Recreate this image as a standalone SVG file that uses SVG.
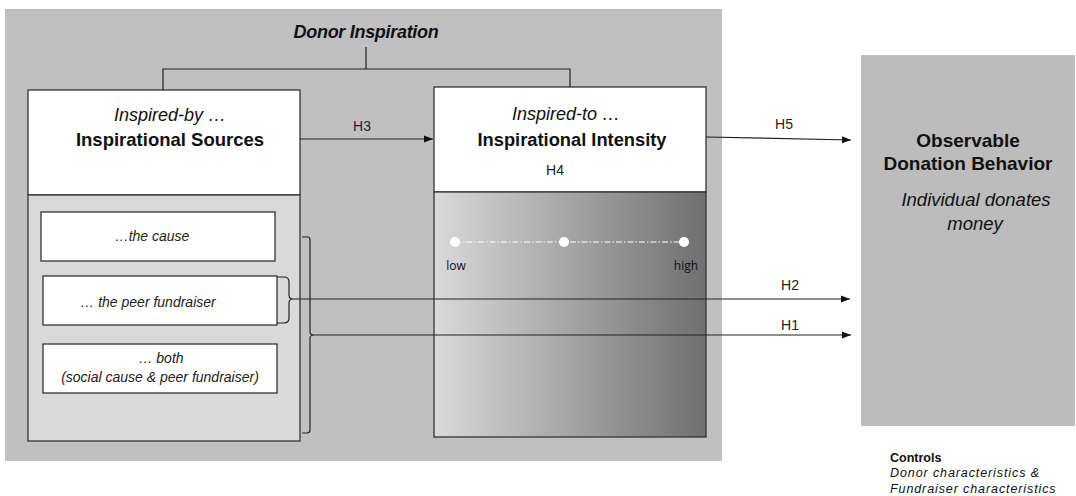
<svg xmlns="http://www.w3.org/2000/svg" width="1076" height="496" viewBox="0 0 1076 496">
<defs>
<linearGradient id="grad" x1="0" y1="0" x2="1" y2="0">
<stop offset="0" stop-color="#dadada"/>
<stop offset="1" stop-color="#6f6f6f"/>
</linearGradient>
<marker id="arr" markerWidth="10" markerHeight="8" refX="9" refY="4" orient="auto" markerUnits="userSpaceOnUse">
<path d="M0,0.5 L9,4 L0,7.5 Z" fill="#111"/>
</marker>
</defs>
<style>
text{font-family:"Liberation Sans",Arial,sans-serif;fill:#111}
.box{stroke:#333;stroke-width:1.3}
.ln{fill:none;stroke:#222;stroke-width:1.2}
.lbl{font-size:14px;text-anchor:middle;fill:#222}
.ital{font-style:italic}
.bold{font-weight:bold}
.mid{text-anchor:middle}
.sm{font-size:14px;font-style:italic;text-anchor:middle;fill:#222}
</style>
<rect x="0" y="0" width="1076" height="496" fill="#ffffff"/>
<g id="donor-inspiration">
<rect x="5" y="9" width="717" height="452" fill="#c0c0c0"/>
<text x="366" y="38" class="bold ital mid" font-size="18" letter-spacing="-0.3">Donor Inspiration</text>
<path class="ln" d="M366,47 V69 M163,90 V69 H570 V87"/>
</g>
<g id="inspirational-sources">
<rect class="box" x="28" y="90" width="272" height="105" fill="#ffffff"/>
<rect class="box" x="28" y="195" width="272" height="246" fill="#d9d9d9"/>
<text x="170" y="121" class="ital mid" font-size="18">Inspired-by …</text>
<text x="170" y="146" class="bold mid" font-size="18.5">Inspirational Sources</text>
</g>
<g id="src-cause">
<rect class="box" x="41" y="212" width="234" height="49" fill="#ffffff"/>
<text x="152" y="241" class="sm">…the cause</text>
</g>
<g id="src-peer">
<rect class="box" x="43" y="276" width="234" height="49" fill="#ffffff"/>
<text x="148" y="307" class="sm">… the peer fundraiser</text>
</g>
<g id="src-both">
<rect class="box" x="43" y="344" width="234" height="49" fill="#ffffff"/>
<text x="161" y="363" class="sm">… both</text>
<text x="160" y="382" class="sm">(social cause &amp; peer fundraiser)</text>
</g>
<g id="inspirational-intensity">
<rect class="box" x="434" y="87" width="272" height="105" fill="#ffffff"/>
<rect class="box" x="434" y="192" width="272" height="245" fill="url(#grad)"/>
<text x="566" y="120" class="ital mid" font-size="18">Inspired-to …</text>
<text x="572" y="146" class="bold mid" font-size="18.3">Inspirational Intensity</text>
<text x="555" y="175" class="lbl">H4</text>
<line x1="455" y1="242" x2="684" y2="242" stroke="#ffffff" stroke-width="1" stroke-dasharray="6,2,1.5,2"/>
<circle cx="455" cy="242" r="5" fill="#ffffff"/>
<circle cx="564" cy="242" r="5" fill="#ffffff"/>
<circle cx="684" cy="242" r="5" fill="#ffffff"/>
<text x="456" y="270" font-size="12" text-anchor="middle" style="font-family:'Open Sans','Liberation Sans',sans-serif" fill="#222">low</text>
<text x="686" y="270" font-size="12" text-anchor="middle" style="font-family:'Open Sans','Liberation Sans',sans-serif" fill="#222">high</text>
</g>
<g id="donation-behavior">
<rect x="861" y="55" width="214" height="371" fill="#bcbcbc"/>
<text x="968" y="147" class="bold mid" font-size="19">Observable</text>
<text x="968" y="170" class="bold mid" font-size="19">Donation Behavior</text>
<text x="976" y="206" class="ital mid" font-size="18.5" fill="#222">Individual donates</text>
<text x="975" y="230" class="ital mid" font-size="18.5" fill="#222">money</text>
</g>
<g id="controls">
<text x="890" y="462" class="bold" font-size="12.5">Controls</text>
<text x="890" y="477" class="ital" font-size="12.5" letter-spacing="0.9" fill="#222">Donor characteristics &amp;</text>
<text x="890" y="493" class="ital" font-size="12.5" letter-spacing="0.9" fill="#222">Fundraiser characteristics</text>
</g>
<g id="connectors">
<path class="ln" d="M300,139 H433" marker-end="url(#arr)"/>
<text x="362" y="131" class="lbl">H3</text>
<path class="ln" d="M706,137 L851,140" marker-end="url(#arr)"/>
<text x="784" y="129" class="lbl">H5</text>
<path class="ln" d="M277,277 H284 Q289,277 289,282 V295 Q289,299 293,299 Q289,299 289,303 V318 Q289,323 284,323 H277"/>
<path class="ln" d="M293,299 H850" marker-end="url(#arr)"/>
<text x="790" y="290" class="lbl">H2</text>
<path class="ln" d="M302,237 H308 Q310,237 310,240 V332 Q310,335 314,335 Q310,335 310,338 V430 Q310,433 307,433 H302"/>
<path class="ln" d="M314,335 H851" marker-end="url(#arr)"/>
<text x="790" y="330" class="lbl">H1</text>
</g>
</svg>
